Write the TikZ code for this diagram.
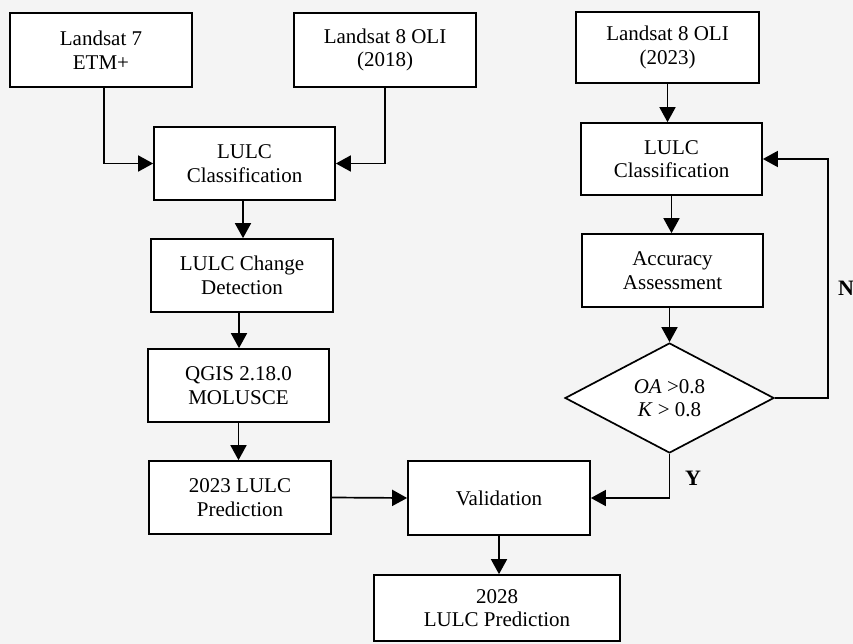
\documentclass[tikz,border=0pt]{standalone}
\usepackage{fontspec}
\setmainfont{Liberation Serif}
\usetikzlibrary{arrows.meta,shapes.geometric}
\definecolor{bgc}{RGB}{244,244,244}
\begin{document}
\begin{tikzpicture}[x=1pt,y=-1pt,
  box/.style={draw,fill=white,line width=1.7pt,align=center,inner sep=0pt,
    font=\fontsize{21}{23.5}\selectfont},
  dia/.style={diamond,draw,fill=white,line width=1.7pt,align=center,inner sep=0pt,
    aspect=1.9,font=\fontsize{21}{23.5}\selectfont},
  arr/.style={line width=1.7pt,-{Triangle[length=15pt,width=16pt]}},
  lbl/.style={font=\fontsize{22}{24}\selectfont\bfseries,inner sep=0pt}]
\fill[bgc] (0,0) rectangle (853,644);
\useasboundingbox (0,0) rectangle (853,644);

% left column
\node[box,minimum width=182,minimum height=74] (l7) at (101,50) {Landsat 7\\ETM+};
\node[box,minimum width=182,minimum height=74] (l8a) at (385,50) {Landsat 8 OLI\\(2018)};
\node[box,minimum width=181,minimum height=73] (cl1) at (244.5,163.5) {LULC\\Classification};
\node[box,minimum width=182,minimum height=73] (cd) at (242,275.5) {LULC Change\\Detection};
\node[box,minimum width=181,minimum height=73] (qg) at (238.5,385.5) {QGIS 2.18.0\\MOLUSCE};
\node[box,minimum width=182,minimum height=73] (p23) at (240,497.5) {2023 LULC\\Prediction};

% right column
\node[box,minimum width=183,minimum height=71] (l8b) at (667.5,47.5) {Landsat 8 OLI\\(2023)};
\node[box,minimum width=181,minimum height=72] (cl2) at (671.5,159) {LULC\\Classification};
\node[box,minimum width=181,minimum height=73] (acc) at (672.5,270.5) {Accuracy\\Assessment};
\node[dia,minimum width=209,minimum height=110] (dec) at (669.5,398) {\textit{OA} >0.8\\\textit{K} > 0.8};

% bottom
\node[box,minimum width=182,minimum height=74] (val) at (499,498) {Validation};
\node[box,minimum width=246,minimum height=66] (p28) at (497,608) {2028\\LULC Prediction};

% connectors
\draw[arr] ([xshift=3pt]l7.south) |- (cl1.west);
\draw[arr] (l8a.south) |- (cl1.east);
\draw[arr] ([xshift=-1.5pt]cl1.south) -- ([xshift=-1.5pt]cl1.south |- cd.north);
\draw[arr] ([xshift=-3pt]cd.south) -- ([xshift=-3pt]cd.south |- qg.north);
\draw[arr] (qg.south) -- (qg.south |- p23.north);
\draw[arr] (p23.east) -- (val.west);
\draw[arr] (val.south) -- (val.south |- p28.north);

\draw[arr] (l8b.south) -- (l8b.south |- cl2.north);
\draw[arr] (cl2.south) -- (cl2.south |- acc.north);
\draw[arr] ([xshift=-3pt]acc.south) -- (dec.north);
\coordinate (nc) at (828,159);
\draw[arr] (dec.east) -| (nc) -- (cl2.east);
\draw[arr] (dec.south) |- (val.east);

\node[lbl] (nlab) at (846,288) {N};
\node[lbl] (ylab) at (693,478) {Y};
\end{tikzpicture}
\end{document}
